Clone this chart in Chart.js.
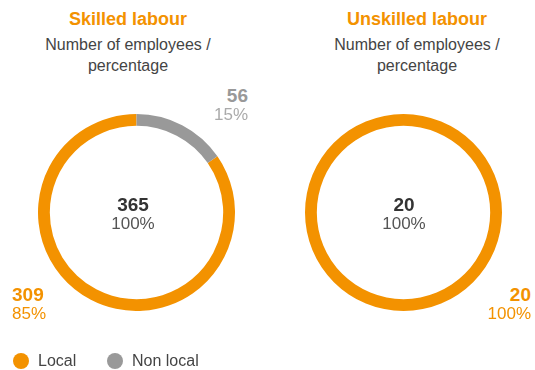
<!DOCTYPE html>
<html>
<head>
<meta charset="utf-8">
<script src="https://cdn.jsdelivr.net/npm/chart.js@4/dist/chart.umd.min.js"></script>
<style>
    html, body { margin: 0; padding: 0; background: #fff; }
    body { width: 535px; height: 370px; position: relative; overflow: hidden;
           font-family: "Liberation Sans", Arial, sans-serif; color: #444; }
    .abs { position: absolute; white-space: nowrap; }
    .title { font-weight: bold; font-size: 18px; color: #F39200; text-align: center; width: 260px; }
    .sub { font-size: 16px; line-height: 21px; text-align: center; width: 260px; color: #444; }
    .num { font-weight: bold; font-size: 19px; line-height: 18px; }
    .pct { font-size: 17px; line-height: 18px; }
    canvas { position: absolute; }
    .legend-item { position: absolute; font-size: 16px; line-height: 18px; color: #444; }
    .dot { position: absolute; width: 16px; height: 16px; border-radius: 50%; }
</style>
</head>
<body>
<canvas id="skilledChart" width="197" height="197" style="left:38px; top:114px;"></canvas>
<canvas id="unskilledChart" width="197" height="197" style="left:305px; top:114px;"></canvas>
<div id="labels"></div>

<script>
// datos
const categories = ['Local', 'Non local'];
const skilled = [309, 56];
const unskilled = [20, 0];
const charts = ['Skilled labour', 'Unskilled labour'];
const subtitle = ['Number of employees /', 'percentage'];
const colores = ['#F39200', '#999999'];

function pct(v, total) {
    return Math.round(v / total * 100) + '%';
}

function addText(html, cls, css) {
    const div = document.createElement('div');
    div.className = 'abs ' + cls;
    div.innerHTML = html;
    Object.assign(div.style, css);
    document.getElementById('labels').appendChild(div);
    return div;
}

function crearDona(id, data) {
    const total = data.reduce((a, b) => a + b, 0);
    const ctx = document.getElementById(id).getContext('2d');
    return new Chart(ctx, {
        type: 'doughnut',
        data: {
            labels: categories,
            datasets: [{
                data: data,
                backgroundColor: colores,
                borderWidth: 0
            }]
        },
        options: {
            responsive: false,
            animation: false,
            cutout: '88%',
            rotation: data[1] / total * 360,
            layout: { padding: 0 },
            plugins: {
                legend: { display: false },
                tooltip: { enabled: false }
            }
        }
    });
}

document.addEventListener('DOMContentLoaded', function () {
    crearDona('skilledChart', skilled);
    crearDona('unskilledChart', unskilled);

    // titulos
    const centros = [128, 417];
    charts.forEach(function (t, i) {
        addText(t, 'title', { left: (centros[i] - 130) + 'px', top: '9px' });
        addText(subtitle.join('<br>'), 'sub', { left: (centros[i] - 130) + 'px', top: '34px' });
    });

    // etiquetas skilled
    const totalS = skilled[0] + skilled[1];
    addText(totalS, 'num', { left: '83px', width: '100px', textAlign: 'center', top: '196px', color: '#333' });
    addText('100%', 'pct', { left: '83px', width: '100px', textAlign: 'center', top: '215px', color: '#555' });
    addText(skilled[1], 'num', { right: (535 - 248) + 'px', textAlign: 'right', top: '87px', color: '#999' });
    addText(pct(skilled[1], totalS), 'pct', { right: (535 - 248) + 'px', textAlign: 'right', top: '106px', color: '#aaa' });
    addText(skilled[0], 'num', { left: '12px', top: '286px', color: '#F39200' });
    addText(pct(skilled[0], totalS), 'pct', { left: '12px', top: '305px', color: '#F39200' });

    // etiquetas unskilled
    const totalU = unskilled[0] + unskilled[1];
    addText(totalU, 'num', { left: '354px', width: '100px', textAlign: 'center', top: '196px', color: '#333' });
    addText('100%', 'pct', { left: '354px', width: '100px', textAlign: 'center', top: '215px', color: '#555' });
    addText(unskilled[0], 'num', { right: (535 - 531) + 'px', textAlign: 'right', top: '286px', color: '#F39200' });
    addText(pct(unskilled[0], totalU), 'pct', { right: (535 - 531) + 'px', textAlign: 'right', top: '305px', color: '#F39200' });

    // leyenda
    const legX = [13, 107];
    categories.forEach(function (c, i) {
        const dot = document.createElement('div');
        dot.className = 'dot';
        dot.style.left = legX[i] + 'px';
        dot.style.top = '353px';
        dot.style.background = colores[i];
        document.body.appendChild(dot);
        const txt = document.createElement('div');
        txt.className = 'legend-item';
        txt.textContent = c;
        txt.style.left = (legX[i] + 25) + 'px';
        txt.style.top = '352px';
        document.body.appendChild(txt);
    });
});
</script>
</body>
</html>
